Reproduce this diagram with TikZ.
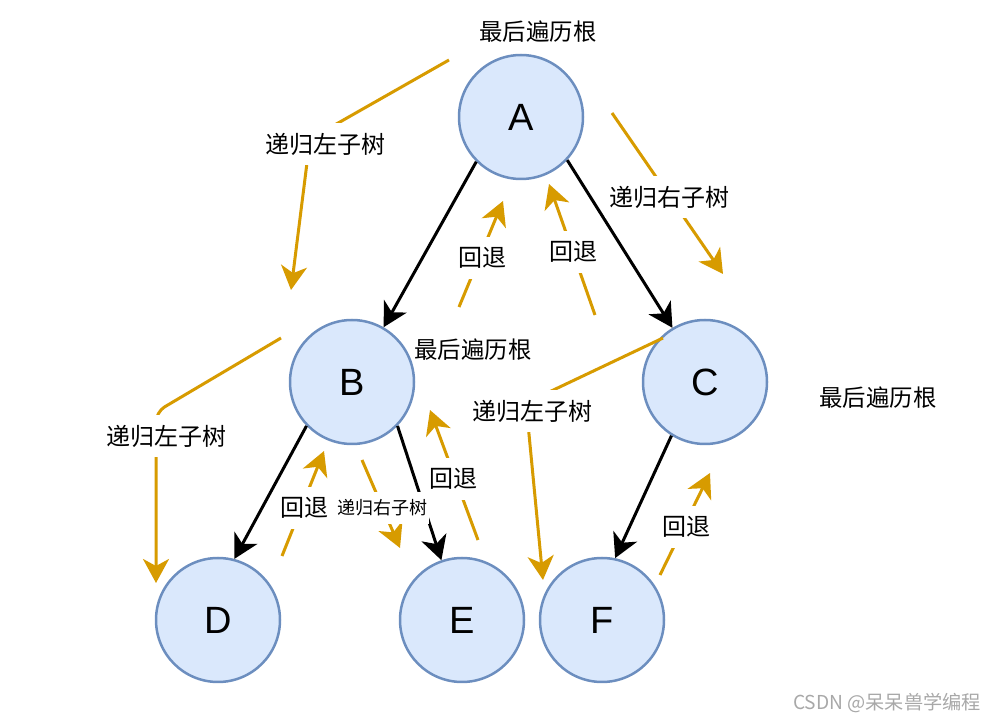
\documentclass[tikz,border=0pt]{standalone}
\usepackage{fontspec}
\setmainfont{Liberation Sans}
\newfontfamily\cjk{Noto Sans CJK SC}
\usetikzlibrary{arrows.meta}
\definecolor{nodefill}{HTML}{DAE8FC}
\definecolor{nodeline}{HTML}{6C8EBF}
\definecolor{flow}{HTML}{D79B00}
\definecolor{wm}{HTML}{A8A8A8}
\begin{document}
\begin{tikzpicture}[x=0.5pt,y=-0.5pt,
  tree/.style={circle, draw=nodeline, fill=nodefill, line width=1.25pt, minimum size=62pt, inner sep=0pt, font=\fontsize{19}{19}\selectfont},
  tip/.style={-{Stealth[length=12pt,width=13pt,inset=3.5pt]}},
  edge/.style={draw=black, line width=1.5pt, tip},
  flowline/.style={draw=flow, line width=1.5pt, tip},
  lbl/.style={fill=white, font=\cjk\fontsize{12}{12}\selectfont, inner xsep=2pt, inner ysep=5pt},
  smalllbl/.style={fill=white, font=\cjk\fontsize{9}{10}\selectfont, inner xsep=1pt, inner ysep=4pt},
  note/.style={font=\cjk\fontsize{11.7}{12}\selectfont, inner sep=0pt},
]
\useasboundingbox (0,0) rectangle (997,721);

% tree nodes
\node[tree] (A) at (521,117) {A};
\node[tree] (B) at (352,382) {B};
\node[tree] (C) at (705,382) {C};
\node[tree] (D) at (218,620) {D};
\node[tree] (E) at (462,620) {E};
\node[tree] (F) at (602,620) {F};

% tree edges
\draw[edge] (A.225) -- (B.60);
\draw[edge] (A.-43) -- (C.121);
\draw[edge] (B.224) -- (D.75);
\draw[edge] (B.-44) -- (E.109);
\draw[edge] (C.238) -- (F.78);

% traversal flow (orange)
\coordinate (p1s) at (449,60);  \coordinate (p1b) at (310,139); \coordinate (p1e) at (291,290);
\draw[flowline] (p1s) -- (p1b) -- (p1e);
\node[lbl] (t1) at (325,144) {递归左子树};

\coordinate (p2s) at (281,338); \coordinate (p2b) at (156,412); \coordinate (p2e) at (156,583);
\draw[flowline, rounded corners=5pt] (p2s) -- (p2b) -- (p2e);
\node[lbl] (t2) at (166,436) {递归左子树};

\coordinate (p3s) at (612,113); \coordinate (p3e) at (723,274);
\draw[flowline] (p3s) -- (p3e);
\node[lbl] (t3) at (669,197) {递归右子树};

\coordinate (p4s) at (663,338); \coordinate (p4b) at (526,403); \coordinate (p4e) at (543,580);
\draw[flowline] (p4s) -- (p4b) -- (p4e);
\node[lbl] (t4) at (532,411) {递归左子树};

\coordinate (p5s) at (459,307); \coordinate (p5e) at (503,201);
\draw[flowline] (p5s) -- (p5e);
\node[lbl] (t5) at (482,258) {回退};

\coordinate (p6s) at (595,315); \coordinate (p6e) at (549,184);
\draw[flowline] (p6s) -- (p6e);
\node[lbl] (t6) at (573,252) {回退};

\coordinate (p7s) at (282,556); \coordinate (p7e) at (324,451);
\draw[flowline] (p7s) -- (p7e);
\node[lbl] (t7) at (304,508) {回退};

\coordinate (p8s) at (362,460); \coordinate (p8e) at (400,548);
\draw[flowline] (p8s) -- (p8e);
\node[smalllbl] (t8) at (382,508) {递归右子树};

\coordinate (p9s) at (478,540); \coordinate (p9e) at (430,410);
\draw[flowline] (p9s) -- (p9e);
\node[lbl] (t9) at (453,479) {回退};

\coordinate (p10s) at (660,575); \coordinate (p10e) at (710,473);
\draw[flowline] (p10s) -- (p10e);
\node[lbl] (t10) at (686,527) {回退};

% notes
\node[note] (n1) at (538,32) {最后遍历根};
\node[note] (n2) at (473,350) {最后遍历根};
\node[note] (n3) at (878,398) {最后遍历根};

% watermark
\node[font=\cjk\fontsize{9.6}{10}\selectfont, text=wm, inner sep=0pt] (wmk) at (887,703) {CSDN @呆呆兽学编程};
\end{tikzpicture}
\end{document}
